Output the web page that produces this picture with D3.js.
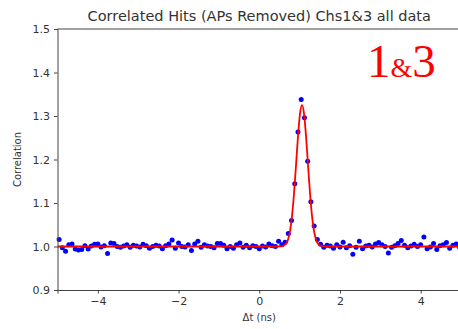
<!DOCTYPE html>
<html lang="en">
<head>
<meta charset="UTF-8">
<title>Correlated Hits</title>
<script src="https://d3js.org/d3.v7.min.js"></script>
<style>
  body { margin: 0; background: #fff; }
  svg { display: block; }
</style>
</head>
<body>
<svg></svg>
<script>
  // time grid of the histogram bins (ns)
  const binStart = -4.96
  const binStep = 0.08
  // measured correlation per bin
  const corrValues = [
    1.016, 0.997, 0.989, 1.004, 1.006, 0.994, 0.992, 0.993, 1.002, 0.994,
    1.001, 1.005, 1.006, 0.999, 1.002, 0.984, 1.008, 1.007, 1.000, 0.998,
    1.001, 1.004, 0.998, 1.003, 1.001, 0.999, 1.005, 1.002, 0.996, 1.000,
    1.003, 1.001, 0.995, 1.002, 1.006, 1.015, 0.996, 1.008, 1.000, 0.999,
    1.004, 0.991, 1.006, 1.012, 0.998, 1.004, 1.001, 1.000, 0.997, 1.007,
    1.007, 1.003, 0.995, 1.000, 0.996, 1.004, 1.008, 0.998, 1.003, 0.997,
    1.002, 1.000, 0.995, 1.001, 0.999, 1.006, 1.002, 1.000, 1.012, 1.004,
    1.010, 1.030, 1.060, 1.144, 1.263, 1.338, 1.296, 1.196, 1.103, 1.047,
    1.016, 1.005, 0.998, 1.003, 1.001, 0.996, 1.004, 0.999, 1.010, 0.997,
    1.002, 0.982, 0.998, 1.012, 0.995, 1.001, 1.003, 0.999, 1.006, 1.009,
    1.004, 1.000, 0.985, 0.998, 1.002, 1.007, 1.014, 1.003, 0.997, 1.001,
    1.005, 1.000, 1.004, 1.022, 0.995, 0.999, 1.007, 0.993, 1.002, 1.004,
    1.009, 0.996, 1.003, 1.006, 0.999
  ]

  // fitted curve, sampled
  const fitTimes = [-5, 0.46, 0.56, 0.66, 0.71, 0.76, 0.81, 0.86, 0.91, 0.96, 1.01, 1.06,
                    1.11, 1.16, 1.21, 1.26, 1.31, 1.36, 1.41, 1.46, 1.56, 1.66, 5]
  const fitValues = [1.0, 1.0, 1.001, 1.006, 1.015, 1.034, 1.068, 1.120, 1.185, 1.253, 1.305, 1.325,
                     1.305, 1.253, 1.185, 1.120, 1.068, 1.034, 1.015, 1.006, 1.001, 1.0, 1.0]

  const xTicks = [-4, -2, 0, 2, 4]
  const yTicks = [0.9, 1.0, 1.1, 1.2, 1.3, 1.4, 1.5]

  const width = 458
  const height = 329
  const margin = { left: 57.5, top: 29, right: -3, bottom: 39 }

  const svg = d3.select('svg')
    .attr('width', width)
    .attr('height', height)
    .style('font-family', 'DejaVu Sans, sans-serif')

  const x = d3.scaleLinear().domain([-5, 5]).range([margin.left, width - margin.right])
  const y = d3.scaleLinear().domain([0.9, 1.5]).range([height - margin.bottom, margin.top])

  const points = corrValues.map((v, i) => ({ t: binStart + binStep * i, v: v }))
  const fit = fitTimes.map((t, i) => ({ t: t, v: fitValues[i] }))

  const plot = svg.append('g')

  // data points
  plot.append('g')
    .selectAll('circle')
    .data(points)
    .join('circle')
    .attr('cx', d => x(d.t))
    .attr('cy', d => y(d.v))
    .attr('r', 2.5)
    .attr('fill', '#0000ff')

  // fit line
  plot.append('path')
    .datum(fit)
    .attr('fill', 'none')
    .attr('stroke', '#ff0000')
    .attr('stroke-width', 1.8)
    .attr('d', d3.line().x(d => x(d.t)).y(d => y(d.v)).curve(d3.curveMonotoneX))

  // axes
  const xAxis = svg.append('g')
    .attr('transform', `translate(0,${height - margin.bottom})`)
    .call(d3.axisBottom(x).tickValues(xTicks).tickSize(3.5).tickPadding(4)
      .tickFormat(d => d < 0 ? '\u2212' + Math.abs(d) : d))
  const yAxis = svg.append('g')
    .attr('transform', `translate(${margin.left},0)`)
    .call(d3.axisLeft(y).tickValues(yTicks).tickSize(3.5).tickPadding(4).tickFormat(d3.format('.1f')))

  for (const ax of [xAxis, yAxis]) {
    ax.select('.domain').attr('stroke', '#444').attr('stroke-width', 1)
    ax.selectAll('.tick line').attr('stroke', '#444')
    ax.selectAll('.tick text').attr('fill', '#333').style('font-size', '11px')
      .style('font-family', 'DejaVu Sans, sans-serif')
  }
  // top spine
  svg.append('line')
    .attr('x1', margin.left).attr('x2', width)
    .attr('y1', margin.top).attr('y2', margin.top)
    .attr('stroke', '#444')

  // title and labels
  svg.append('text')
    .attr('x', x(0)).attr('y', 21)
    .attr('text-anchor', 'middle')
    .attr('fill', '#333')
    .style('font-size', '14.5px')
    .text('Correlated Hits (APs Removed) Chs1&3 all data')

  svg.append('text')
    .attr('transform', `translate(21,${(margin.top + height - margin.bottom) / 2}) rotate(-90)`)
    .attr('text-anchor', 'middle')
    .attr('fill', '#333')
    .style('font-size', '10px')
    .text('Correlation')

  svg.append('text')
    .attr('x', x(0)).attr('y', 321)
    .attr('text-anchor', 'middle')
    .attr('fill', '#333')
    .style('font-size', '10px')
    .text('\u0394t (ns)')

  // channel label
  const tag = svg.append('text')
    .attr('x', 367).attr('y', 77)
    .attr('fill', '#ff0000')
    .style('font-family', 'Liberation Serif, serif')
  tag.append('tspan').style('font-size', '47px').text('1')
  tag.append('tspan').style('font-size', '28px').text('&')
  tag.append('tspan').style('font-size', '47px').text('3')
</script>
</body>
</html>
